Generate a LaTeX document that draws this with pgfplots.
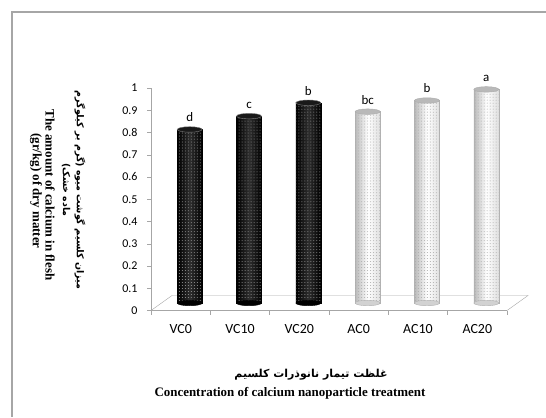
\documentclass[border=0pt]{standalone}
\usepackage{pgfplots}
\pgfplotsset{compat=1.18}
\usetikzlibrary{patterns}
\usepackage{fontspec}
\setmainfont{Carlito}
\newfontfamily\serifb{Liberation Serif}
\newfontfamily\arabicfont[Script=Arabic]{DejaVu Sans}
\TeXXeTstate=1
\pgfplotsset{
  basebar/.style={ybar, bar width=25bp, bar shift=9bp, yshift=7.5bp},
  dbar/.style={basebar, draw=black, left color=black, right color=black, middle color=black!82},
  lbar/.style={basebar, draw=gray!60, left color=gray!55, right color=gray!25, middle color=white},
  ell/.style={only marks, mark=*, mark size=12.5bp, xshift=9bp, yshift=7.5bp},
}
\begin{document}
\begin{tikzpicture}[x=1bp,y=1bp]
\path[use as bounding box] (0,0) rectangle (546,417);
\draw[gray!70, line width=1.5bp] (12,0) -- (12,405) -- (546,405);
\begin{axis}[
  at={(151bp,106.5bp)}, anchor=south west,
  scale only axis, width=356bp, height=222.5bp,
  xmin=-0.5, xmax=5.5, ymin=0, ymax=1,
  clip=false,
  axis x line*=bottom, axis y line*=left,
  axis line style={gray!70, -},
  every tick/.style={gray!70},
  tick align=outside, major tick length=4bp,
  ytick={0,0.1,0.2,0.3,0.4,0.5,0.6,0.7,0.8,0.9,1},
  yticklabels={0,0.1,0.2,0.3,0.4,0.5,0.6,0.7,0.8,0.9,1},
  xtick={-0.5,0.5,1.5,2.5,3.5,4.5,5.5},
  x tick label as interval,
  xticklabels={VC0,VC10,VC20,AC0,AC10,AC20},
  y tick label style={font=\fontsize{12}{12}\selectfont, xshift=-6bp},
  x tick label style={font=\fontsize{14}{14}\selectfont, yshift=-6bp},
]
% floor
\draw[gray!70] (axis cs:-0.5,0) -- ++(21bp,15bp) -- ([shift={(21bp,15bp)}]axis cs:5.5,0) -- (axis cs:5.5,0);
% bottom ellipses
\addplot[ell, mark options={yscale=0.22, fill=black, draw=black}] coordinates {(0,0) (1,0) (2,0)};
\addplot[ell, mark options={yscale=0.22, fill=gray!35, draw=gray!60}] coordinates {(3,0) (4,0) (5,0)};
% bars (one plot per bar so that each is shaded as a cylinder)
\addplot[dbar] coordinates {(0,0.78)};
\addplot[dbar] coordinates {(1,0.84)};
\addplot[dbar] coordinates {(2,0.90)};
\addplot[lbar] coordinates {(3,0.86)};
\addplot[lbar] coordinates {(4,0.91)};
\addplot[lbar] coordinates {(5,0.96)};
% dotted texture
\addplot[basebar, draw=none, pattern=dots, pattern color=black!40] coordinates {(0,0.78) (1,0.84) (2,0.90)};
\addplot[basebar, draw=none, pattern=dots, pattern color=gray!65] coordinates {(3,0.86) (4,0.91) (5,0.96)};
% top ellipses with letters
\addplot[ell, mark options={yscale=0.22, fill=black!90, draw=black!50},
  nodes near coords, point meta=explicit symbolic,
  nodes near coords style={font=\fontsize{13}{13}\selectfont, anchor=south, yshift=4bp, text=black}]
  coordinates {(0,0.78) [d] (1,0.84) [c] (2,0.90) [b]};
\addplot[ell, mark options={yscale=0.22, fill=gray!55, draw=gray!65},
  nodes near coords, point meta=explicit symbolic,
  nodes near coords style={font=\fontsize{13}{13}\selectfont, anchor=south, yshift=4bp, text=black}]
  coordinates {(3,0.86) [bc] (4,0.91) [b] (5,0.96) [a]};
\end{axis}
% y label lines
\node[rotate=-90, font=\arabicfont\bfseries\fontsize{9.5}{9.5}\selectfont] at (80,227) {\beginR میزان کلسیم گوشت میوه (گرم بر کیلوگرم\endR};
\node[rotate=-90, font=\arabicfont\bfseries\fontsize{9.5}{9.5}\selectfont] at (66,227) {\beginR ماده خشک)\endR};
\node[rotate=-90, font=\serifb\bfseries\fontsize{13}{13}\selectfont] at (50,222) {The amount of calcium in flesh};
\node[rotate=-90, font=\serifb\bfseries\fontsize{13}{13}\selectfont] at (36,226) {(gr/kg) of dry matter};
% x label lines
\node[font=\arabicfont\bfseries\fontsize{11}{11}\selectfont] at (311,42.5) {\beginR غلظت تیمار نانوذرات کلسیم\endR};
\node[font=\serifb\bfseries\fontsize{13}{13}\selectfont] at (290,23.5) {Concentration of calcium nanoparticle treatment};
\end{tikzpicture}
\end{document}
